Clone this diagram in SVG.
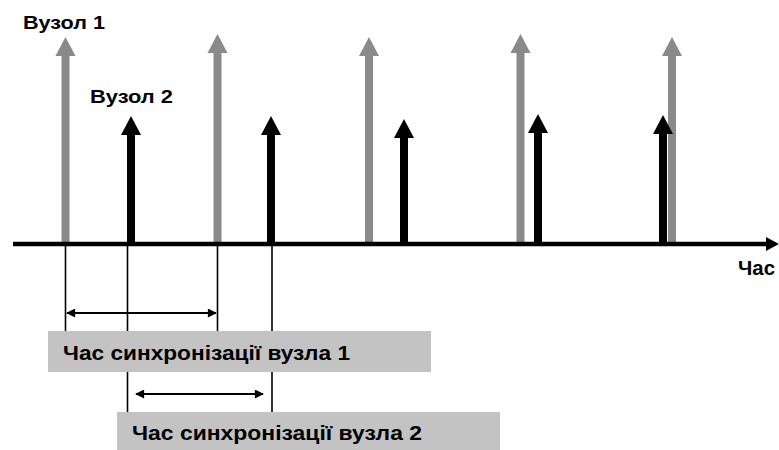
<svg xmlns="http://www.w3.org/2000/svg" width="779" height="450" viewBox="0 0 779 450">
  <style>
    .lbl { font-family: "Liberation Sans", Arial, sans-serif; font-weight: bold; fill: #000; }
    .gshaft { stroke: #8a8a8a; stroke-width: 8; }
    .gtip { fill: #8a8a8a; }
    .bshaft { stroke: #000; stroke-width: 8; }
    .btip { fill: #000; }
    .guide { stroke: #000; stroke-width: 1.6; fill: none; }
    .dim { stroke: #000; stroke-width: 2; fill: none; }
    .box { fill: #c3c3c3; }
  </style>
  <defs>
    <marker id="dimHead" viewBox="0 0 10 10" refX="9" refY="5" markerWidth="5" markerHeight="4.5" orient="auto-start-reverse" markerUnits="strokeWidth">
      <path d="M0,0 L10,5 L0,10 Z" fill="#000"/>
    </marker>
  </defs>
  <rect width="779" height="450" fill="#fff"/>

  <!-- guide lines dropped from the axis -->
  <g id="guides">
    <line class="guide" x1="65.5" y1="244" x2="65.5" y2="332"/>
    <line class="guide" x1="217.5" y1="244" x2="217.5" y2="332"/>
    <line class="guide" x1="127.5" y1="244" x2="127.5" y2="412"/>
    <line class="guide" x1="272" y1="244" x2="272" y2="412"/>
  </g>

  <!-- node 1 pulses (gray) -->
  <g id="node1-pulses">
    <line class="gshaft" x1="65.5" y1="244" x2="65.5" y2="54"/>
    <polygon class="gtip" points="65.5,37 75.5,56 55.5,56"/>
    <line class="gshaft" x1="217.5" y1="244" x2="217.5" y2="51"/>
    <polygon class="gtip" points="217.5,34 227.5,53 207.5,53"/>
    <line class="gshaft" x1="369" y1="244" x2="369" y2="54"/>
    <polygon class="gtip" points="369,37 379,56 359,56"/>
    <line class="gshaft" x1="520.5" y1="244" x2="520.5" y2="51"/>
    <polygon class="gtip" points="520.5,34 530.5,53 510.5,53"/>
    <line class="gshaft" x1="672" y1="244" x2="672" y2="54"/>
    <polygon class="gtip" points="672,37 682,56 662,56"/>
  </g>

  <!-- node 2 pulses (black) -->
  <g id="node2-pulses">
    <line class="bshaft" x1="131" y1="244" x2="131" y2="134"/>
    <polygon class="btip" points="131,116 141,135 121,135"/>
    <line class="bshaft" x1="271" y1="244" x2="271" y2="134"/>
    <polygon class="btip" points="271,116 281,135 261,135"/>
    <line class="bshaft" x1="404" y1="244" x2="404" y2="137"/>
    <polygon class="btip" points="404,119 414,138 394,138"/>
    <line class="bshaft" x1="538" y1="244" x2="538" y2="132"/>
    <polygon class="btip" points="538,114 548,133 528,133"/>
    <line class="bshaft" x1="663" y1="244" x2="663" y2="133"/>
    <polygon class="btip" points="663,115 673,134 653,134"/>
  </g>

  <!-- time axis -->
  <g id="axis">
    <line x1="13" y1="244" x2="768" y2="244" stroke="#000" stroke-width="4.5"/>
    <polygon points="779,244 766,237 766,251" fill="#000"/>
    <text class="lbl" x="738" y="275" font-size="20" textLength="37" lengthAdjust="spacingAndGlyphs">Час</text>
  </g>

  <!-- sync interval arrows -->
  <g id="connectors">
    <line class="dim" x1="67" y1="313" x2="216" y2="313" marker-start="url(#dimHead)" marker-end="url(#dimHead)"/>
    <line class="dim" x1="136" y1="394" x2="263" y2="394" marker-start="url(#dimHead)" marker-end="url(#dimHead)"/>
  </g>

  <g id="label-node1">
    <text class="lbl" x="23" y="29" font-size="19" textLength="82" lengthAdjust="spacingAndGlyphs">Вузол 1</text>
  </g>
  <g id="label-node2">
    <text class="lbl" x="90" y="103" font-size="19" textLength="83" lengthAdjust="spacingAndGlyphs">Вузол 2</text>
  </g>

  <g id="sync-node1">
    <rect class="box" x="48" y="331" width="383" height="41"/>
    <text class="lbl" x="63" y="360" font-size="21" textLength="287" lengthAdjust="spacingAndGlyphs">Час синхронізації вузла 1</text>
  </g>
  <g id="sync-node2">
    <rect class="box" x="117" y="412" width="383" height="38"/>
    <text class="lbl" x="132" y="440" font-size="21" textLength="290" lengthAdjust="spacingAndGlyphs">Час синхронізації вузла 2</text>
  </g>
</svg>
